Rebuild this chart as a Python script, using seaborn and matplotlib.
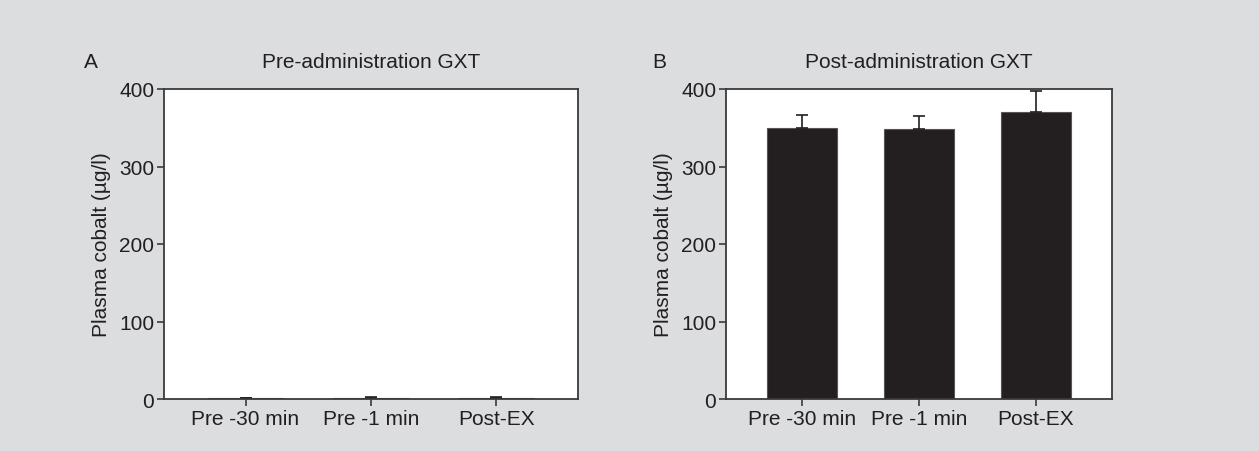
import matplotlib
matplotlib.use('Agg')
import matplotlib.pyplot as plt
import seaborn as sns
import pandas as pd
from matplotlib import font_manager

# data
categories = ['Pre -30 min', 'Pre -1 min', 'Post-EX']
pre_means = [1.5, 1.6, 1.7]
pre_err = [0.4, 0.4, 0.5]
post_means = [350, 349, 370]
post_err = [17, 16, 27]

titles = ['Pre-administration GXT', 'Post-administration GXT']
panel_letters = ['A', 'B']
ylabel = 'Plasma cobalt (\u00b5g/l)'
yticks = [0, 100, 200, 300, 400]

BG = '#DCDDDF'
BAR = '#231F20'
EDGE = '#3A3A3A'
TXT = '#231F20'

sns.set_style('white')
names = {f.name for f in font_manager.fontManager.ttflist}
family = 'Liberation Sans Narrow' if 'Liberation Sans Narrow' in names else 'Liberation Sans'
plt.rcParams['font.family'] = [family, 'DejaVu Sans']
plt.rcParams['text.color'] = TXT

fig = plt.figure(figsize=(12.59, 4.52), dpi=100, facecolor=BG)
W, H = 1259, 452
boxes = [(164, 90, 578, 400), (726, 90, 1112, 400)]
letter_x = [84, 652]

for i, (means, errs) in enumerate([(pre_means, pre_err), (post_means, post_err)]):
    l, t, r, b = boxes[i]
    ax = fig.add_axes([l / W, 1 - b / H, (r - l) / W, (b - t) / H])
    df = pd.DataFrame({'cat': categories, 'val': means})
    sns.barplot(data=df, x='cat', y='val', ax=ax, color=BAR, width=0.6,
                saturation=1, errorbar=None, edgecolor='#555555', linewidth=0.8)
    ax.errorbar(range(len(categories)), means, yerr=[[0] * len(errs), errs],
                fmt='none', ecolor=BAR, elinewidth=1.2, capsize=4, capthick=1.2)
    ax.set_xlim(-0.65, 2.65)
    ax.set_ylim(0, 400)
    ax.set_yticks(yticks)
    ax.set_xlabel('')
    ax.set_ylabel(ylabel, fontsize=15, labelpad=6, color=TXT)
    ax.tick_params(axis='both', labelsize=15, direction='out', length=5, width=1.2,
                   color=EDGE, labelcolor=TXT, bottom=True, left=True, pad=2)
    for s in ax.spines.values():
        s.set_color(EDGE)
        s.set_linewidth(1.3)
    ax.set_facecolor('white')
    ax.set_title(titles[i], fontsize=15, pad=16, color=TXT)
    fig.text(letter_x[i] / W, 1 - 62 / H, panel_letters[i], fontsize=15, va='center')

fig.savefig('out.png', dpi=100, facecolor=BG)
